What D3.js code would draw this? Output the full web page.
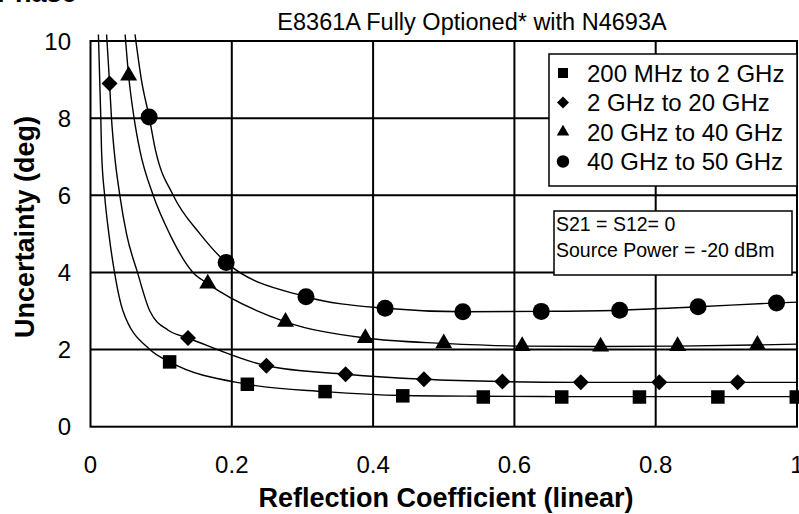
<!DOCTYPE html>
<html>
<head>
<meta charset="utf-8">
<script src="https://cdn.jsdelivr.net/npm/d3@7"></script>
<style>
  html, body { margin: 0; padding: 0; background: #fff; }
  #chart { width: 799px; height: 514px; }
  text { font-family: "Liberation Sans", Arial, sans-serif; fill: #000; }
</style>
</head>
<body>
<div id="chart"></div>
<script>
// Values
const xTicks = [0, 0.2, 0.4, 0.6, 0.8, 1];
const yTicks = [0, 2, 4, 6, 8, 10];
const xTickLabels = ['0', '0.2', '0.4', '0.6', '0.8', '1'];
const seriesNames = ['200 MHz to 2 GHz', '2 GHz to 20 GHz', '20 GHz to 40 GHz', '40 GHz to 50 GHz'];
const seriesShapes = ['square', 'diamond', 'triangle', 'circle'];

// marker points [reflection coefficient, uncertainty deg]
const squarePoints = [[0.112, 1.68], [0.222, 1.10], [0.332, 0.91], [0.442, 0.80], [0.556, 0.77],
    [0.667, 0.77], [0.777, 0.77], [0.888, 0.77], [0.999, 0.77]];
const diamondPoints = [[0.027, 8.9], [0.138, 2.3], [0.249, 1.58], [0.361, 1.36], [0.472, 1.23],
    [0.583, 1.17], [0.694, 1.15], [0.805, 1.15], [0.916, 1.15]];
const trianglePoints = [[0.054, 9.1], [0.166, 3.71], [0.276, 2.72], [0.389, 2.30], [0.500, 2.16],
    [0.611, 2.09], [0.722, 2.08], [0.831, 2.09], [0.944, 2.12]];
const circlePoints = [[0.083, 8.03], [0.192, 4.26], [0.305, 3.37], [0.417, 3.07], [0.527, 2.98],
    [0.638, 2.99], [0.749, 3.02], [0.860, 3.11], [0.971, 3.21]];

// fitted curves (they run slightly above the top border)
const squareCurve = [[0.0112, 10.17], [0.0146, 8], [0.0156, 7.17], [0.020, 6], [0.026, 5], [0.034, 4],
    [0.046, 3], [0.084, 2], [0.112, 1.68], [0.222, 1.10], [0.332, 0.91], [0.442, 0.81],
    [0.556, 0.79], [0.667, 0.78], [0.777, 0.78], [0.888, 0.78], [1.0, 0.78]];
const diamondCurve = [[0.0228, 10.17], [0.027, 8.9], [0.0297, 8], [0.0334, 7.17], [0.0415, 6], [0.051, 5],
    [0.0665, 4], [0.084, 3], [0.110, 2.5], [0.138, 2.3], [0.249, 1.58], [0.361, 1.36],
    [0.472, 1.23], [0.583, 1.17], [0.694, 1.15], [0.805, 1.15], [0.916, 1.15], [1.0, 1.15]];
const triangleCurve = [[0.049, 10.17], [0.054, 9.1], [0.0617, 8], [0.0698, 7.17], [0.0887, 6], [0.112, 5],
    [0.145, 4], [0.166, 3.71], [0.276, 2.72], [0.389, 2.30], [0.500, 2.16], [0.611, 2.09],
    [0.722, 2.08], [0.831, 2.09], [0.944, 2.12], [1.0, 2.14]];
const circleCurve = [[0.063, 10.17], [0.072, 9.0], [0.083, 8.03], [0.092, 7.17], [0.117, 6], [0.155, 5],
    [0.192, 4.26], [0.305, 3.37], [0.417, 3.07], [0.527, 2.98], [0.638, 2.99], [0.749, 3.02],
    [0.860, 3.11], [0.971, 3.21], [1.0, 3.23]];

const allPoints = [squarePoints, diamondPoints, trianglePoints, circlePoints];
const allCurves = [squareCurve, diamondCurve, triangleCurve, circleCurve];

const container = d3.select('#chart');
const width = 799;
const height = 514;

const svg = container.append('svg')
    .attr('width', width)
    .attr('height', height);

const plot = { left: 90.5, right: 797, top: 41, bottom: 426.7 };

const x = d3.scaleLinear().domain([0, 1]).range([plot.left, plot.right]);
const y = d3.scaleLinear().domain([0, 10]).range([plot.bottom, plot.top]);

// marker path for a shape, sized in px
function markerPath(shape, s) {
    if (shape === 'square') return d3.symbol(d3.symbolSquare, s * s)();
    if (shape === 'circle') return d3.symbol(d3.symbolCircle, Math.PI * (s / 2) * (s / 2))();
    if (shape === 'triangle') return d3.symbol(d3.symbolTriangle, Math.sqrt(3) / 4 * s * s)();
    const h = s / 2; // diamond
    return `M0,${-h}L${h},0L0,${h}L${-h},0Z`;
}
const markerSizes = { square: 13.5, diamond: 16, triangle: 17, circle: 17 };
const legendSizes = { square: 10, diamond: 12, triangle: 12.5, circle: 12.5 };

// cut-off heading at the very top
svg.append('text')
    .attr('x', -3)
    .attr('y', 2)
    .attr('font-size', '27px')
    .attr('font-weight', 'bold')
    .text('Phase');

// title
svg.append('text')
    .attr('x', 472)
    .attr('y', 30)
    .attr('text-anchor', 'middle')
    .attr('font-size', '23.5px')
    .text('E8361A Fully Optioned* with N4693A');

// grid lines
svg.append('g')
    .selectAll('line')
    .data(xTicks.slice(1, -1))
    .join('line')
    .attr('x1', d => x(d)).attr('x2', d => x(d))
    .attr('y1', plot.top).attr('y2', plot.bottom)
    .attr('stroke', '#000').attr('stroke-width', 2);

svg.append('g')
    .selectAll('line')
    .data(yTicks.slice(1, -1))
    .join('line')
    .attr('x1', plot.left).attr('x2', plot.right)
    .attr('y1', d => y(d)).attr('y2', d => y(d))
    .attr('stroke', '#000').attr('stroke-width', 2);

// plot border
svg.append('rect')
    .attr('x', x(0)).attr('y', y(10))
    .attr('width', x(1) - x(0)).attr('height', y(0) - y(10))
    .attr('fill', 'none').attr('stroke', '#000').attr('stroke-width', 2);

// tick labels
svg.append('g')
    .selectAll('text')
    .data(xTicks)
    .join('text')
    .attr('x', d => x(d))
    .attr('y', 473)
    .attr('text-anchor', 'middle')
    .attr('font-size', '24px')
    .text((d, i) => xTickLabels[i]);

svg.append('g')
    .selectAll('text')
    .data(yTicks)
    .join('text')
    .attr('x', 71)
    .attr('y', d => y(d) + 8.5)
    .attr('text-anchor', 'end')
    .attr('font-size', '24px')
    .text(d => d);

// axis titles
svg.append('text')
    .attr('x', 446)
    .attr('y', 507)
    .attr('text-anchor', 'middle')
    .attr('font-size', '27px')
    .attr('font-weight', 'bold')
    .text('Reflection Coefficient (linear)');

svg.append('text')
    .attr('transform', 'translate(34,227) rotate(-90)')
    .attr('text-anchor', 'middle')
    .attr('font-size', '27px')
    .attr('font-weight', 'bold')
    .text('Uncertainty (deg)');

// curves
const line = d3.line()
    .x(d => x(d[0]))
    .y(d => y(d[1]))
    .curve(d3.curveMonotoneX);

svg.append('g')
    .selectAll('path')
    .data(allCurves)
    .join('path')
    .attr('d', line)
    .attr('fill', 'none')
    .attr('stroke', '#000')
    .attr('stroke-width', 1.4);

// markers
allPoints.forEach((pts, i) => {
    const shape = seriesShapes[i];
    svg.append('g')
        .selectAll('path')
        .data(pts)
        .join('path')
        .attr('transform', d => `translate(${x(d[0])},${y(d[1])})`)
        .attr('d', markerPath(shape, markerSizes[shape]))
        .attr('fill', '#000');
});

// legend
const legend = svg.append('g');
legend.append('rect')
    .attr('x', 549).attr('y', 54)
    .attr('width', 248).attr('height', 132)
    .attr('fill', '#fff').attr('stroke', '#000').attr('stroke-width', 1.5);

seriesNames.forEach((name, i) => {
    const cy = 73 + i * 29.5;
    const shape = seriesShapes[i];
    legend.append('path')
        .attr('transform', `translate(563,${cy})`)
        .attr('d', markerPath(shape, legendSizes[shape]))
        .attr('fill', '#000');
    legend.append('text')
        .attr('x', 587)
        .attr('y', cy + 8.5)
        .attr('font-size', '24px')
        .text(name);
});

// note box
const note = svg.append('g');
note.append('rect')
    .attr('x', 554).attr('y', 211)
    .attr('width', 238).attr('height', 64)
    .attr('fill', '#fff').attr('stroke', '#000').attr('stroke-width', 1.5);
note.append('text')
    .attr('x', 556).attr('y', 231)
    .attr('font-size', '19.5px')
    .text('S21 = S12= 0');
note.append('text')
    .attr('x', 556).attr('y', 257)
    .attr('font-size', '19.5px')
    .text('Source Power = -20 dBm');
</script>
</body>
</html>
